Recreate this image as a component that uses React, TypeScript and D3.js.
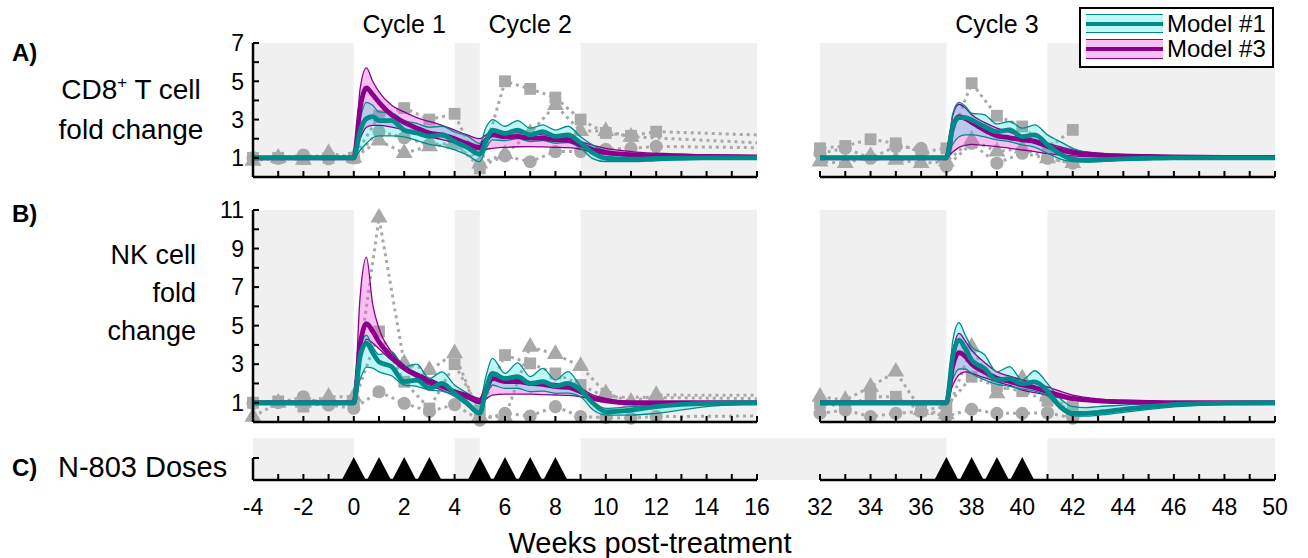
import React from "react";
import * as d3 from "d3";

const FONT = "'Liberation Sans', Arial, Helvetica, sans-serif";
const TEAL = "#008b8b";
const PURPLE = "#8b008b";
const GRAY = "#a9a9a9";
const SHADE = "#f0f0f0";
const CYAN_FILL = "rgb(0,225,225)";
const PINK_FILL = "rgb(235,90,215)";

// model time grids (weeks)
const tLeft = [-4, 0, 0.25, 0.5, 0.75, 1, 1.5, 2, 2.5, 3, 3.5, 4, 4.5, 5, 5.25, 5.5, 6, 6.5, 7, 7.5, 8, 8.5, 9, 9.5, 10, 11, 12, 14, 16];
const tRight = [32, 37, 37.25, 37.5, 37.75, 38, 38.5, 39, 39.5, 40, 40.5, 41, 41.5, 42, 42.5, 43, 44, 45, 46, 48, 50];

// CD8+ T cell fold change, model #1 (teal)
const cd8M1MidL = [1, 1, 2.4, 3.05, 3.15, 2.95, 2.95, 2.45, 2.3, 2.12, 2.2, 1.85, 1.55, 1.2, 1.9, 2.45, 2.28, 2.45, 2.2, 2.37, 2.12, 2.2, 1.78, 1.25, 0.98, 0.93, 0.97, 1.0, 1.0];
const cd8M1HiL = [1, 1, 3.0, 3.9, 3.75, 3.4, 3.35, 2.95, 2.8, 2.6, 2.65, 2.35, 2.15, 1.75, 2.6, 3.0, 2.65, 2.95, 2.55, 2.72, 2.45, 2.65, 2.1, 1.65, 1.33, 1.08, 1.02, 1.0, 1.0];
const cd8M1LoL = [1, 1, 1.4, 1.75, 2.05, 2.15, 2.15, 2.1, 1.9, 1.7, 1.6, 1.42, 1.15, 0.8, 1.5, 1.94, 1.9, 2.0, 1.85, 1.9, 1.76, 1.8, 1.5, 0.95, 0.8, 0.8, 0.85, 0.93, 0.95];
const cd8M1MidR = [1, 1, 2.6, 3.1, 3.1, 2.98, 2.64, 2.37, 2.46, 2.11, 2.2, 1.68, 1.2, 0.92, 0.88, 0.9, 0.95, 0.98, 1.0, 1.0, 1.0];
const cd8M1HiR = [1, 1, 3.3, 3.9, 3.7, 3.33, 3.26, 2.77, 2.9, 2.55, 2.72, 2.2, 1.85, 1.5, 1.3, 1.2, 1.1, 1.05, 1.03, 1.0, 1.0];
const cd8M1LoR = [1, 1, 1.7, 2.1, 2.2, 2.2, 2.1, 1.94, 1.85, 1.68, 1.55, 1.24, 0.95, 0.8, 0.78, 0.8, 0.88, 0.93, 0.96, 0.99, 1.0];

// CD8+ T cell fold change, model #3 (purple)
const cd8M3MidL = [1, 1, 3.6, 4.65, 4.3, 3.9, 3.25, 2.85, 2.55, 2.3, 2.2, 2.0, 1.75, 1.55, 1.95, 2.2, 2.1, 2.12, 2.03, 2.03, 1.94, 1.92, 1.68, 1.42, 1.29, 1.16, 1.11, 1.07, 1.05];
const cd8M3HiL = [1, 1, 4.6, 5.7, 5.0, 4.45, 3.75, 3.4, 3.1, 2.9, 2.7, 2.45, 2.2, 2.0, 2.2, 2.37, 2.33, 2.3, 2.24, 2.2, 2.11, 2.05, 1.85, 1.65, 1.5, 1.33, 1.24, 1.16, 1.12];
const cd8M3LoL = [1, 1, 2.0, 2.6, 2.7, 2.7, 2.6, 2.45, 2.25, 2.1, 1.95, 1.78, 1.6, 1.42, 1.45, 1.5, 1.55, 1.58, 1.59, 1.57, 1.55, 1.53, 1.45, 1.28, 1.18, 1.1, 1.07, 1.04, 1.03];
const cd8M3MidR = [1, 1, 2.6, 3.15, 3.05, 2.85, 2.45, 2.15, 2.05, 1.94, 1.85, 1.6, 1.4, 1.27, 1.2, 1.16, 1.1, 1.07, 1.05, 1.03, 1.02];
const cd8M3HiR = [1, 1, 3.2, 3.8, 3.6, 3.25, 2.85, 2.55, 2.35, 2.11, 1.95, 1.76, 1.58, 1.42, 1.32, 1.25, 1.17, 1.12, 1.09, 1.05, 1.04];
const cd8M3LoR = [1, 1, 1.3, 1.55, 1.65, 1.7, 1.65, 1.59, 1.5, 1.41, 1.33, 1.22, 1.15, 1.1, 1.07, 1.05, 1.03, 1.02, 1.01, 1.0, 1.0];

// NK cell fold change, model #1 (teal)
const nkM1MidL = [1, 1, 3.4, 4.1, 3.6, 3.12, 2.87, 2.09, 2.17, 1.74, 2.0, 1.49, 0.97, 0.45, 1.7, 2.52, 2.26, 2.35, 2.0, 2.09, 1.87, 2.0, 1.66, 0.97, 0.53, 0.62, 0.8, 0.97, 1.0];
const nkM1HiL = [1, 1, 3.8, 4.5, 3.9, 3.5, 3.65, 2.87, 3.0, 2.26, 2.6, 1.92, 1.5, 1.08, 2.4, 3.3, 2.52, 3.07, 2.35, 2.78, 2.18, 2.61, 1.83, 1.05, 0.71, 0.8, 0.89, 0.97, 1.0];
const nkM1LoL = [1, 1, 2.2, 2.85, 2.8, 2.6, 2.4, 1.92, 1.85, 1.66, 1.6, 1.32, 0.85, 0.38, 1.3, 1.92, 1.74, 1.75, 1.57, 1.6, 1.49, 1.5, 1.31, 0.62, 0.36, 0.36, 0.45, 0.8, 0.94];
const nkM1MidR = [1, 1, 3.4, 4.25, 3.8, 3.21, 2.78, 2.18, 2.25, 1.99, 2.08, 1.6, 0.8, 0.45, 0.45, 0.5, 0.65, 0.8, 0.9, 0.98, 1.0];
const nkM1HiR = [1, 1, 4.2, 5.15, 4.5, 3.9, 3.5, 2.6, 2.87, 2.18, 2.66, 1.99, 1.22, 0.8, 0.75, 0.8, 0.88, 0.95, 0.98, 1.0, 1.0];
const nkM1LoR = [1, 1, 2.2, 2.75, 2.75, 2.5, 2.2, 1.95, 1.85, 1.7, 1.6, 1.35, 0.7, 0.32, 0.3, 0.35, 0.5, 0.65, 0.78, 0.93, 0.98];

// NK cell fold change, model #3 (purple)
const nkM3MidL = [1, 1, 4.0, 5.1, 4.7, 4.16, 3.38, 2.78, 2.43, 2.09, 1.85, 1.57, 1.35, 1.05, 1.7, 2.26, 2.09, 2.1, 2.0, 1.95, 1.83, 1.8, 1.57, 1.23, 1.1, 1.0, 1.0, 1.0, 1.0];
const nkM3HiL = [1, 1, 6.5, 8.55, 6.1, 4.85, 3.64, 2.95, 2.55, 2.26, 1.95, 1.66, 1.45, 1.23, 1.9, 2.43, 2.3, 2.2, 2.09, 2.05, 2.0, 1.9, 1.74, 1.4, 1.23, 1.05, 1.0, 1.0, 1.0];
const nkM3LoL = [1, 1, 3.2, 4.3, 4.1, 3.8, 3.2, 2.69, 2.3, 1.92, 1.65, 1.4, 1.2, 0.95, 1.2, 1.4, 1.45, 1.45, 1.45, 1.42, 1.4, 1.38, 1.31, 1.15, 1.05, 1.0, 1.0, 1.0, 1.0];
const nkM3MidR = [1, 1, 2.9, 3.6, 3.4, 3.0, 2.6, 2.27, 2.1, 1.92, 1.78, 1.57, 1.38, 1.22, 1.15, 1.1, 1.05, 1.02, 1.0, 1.0, 1.0];
const nkM3HiR = [1, 1, 3.6, 4.6, 4.2, 3.73, 3.1, 2.6, 2.38, 2.18, 2.0, 1.82, 1.6, 1.4, 1.28, 1.2, 1.1, 1.05, 1.02, 1.0, 1.0];
const nkM3LoR = [1, 1, 1.9, 2.45, 2.6, 2.52, 2.3, 2.09, 1.9, 1.66, 1.52, 1.4, 1.25, 1.14, 1.08, 1.05, 1.02, 1.0, 1.0, 1.0, 1.0];

// patient measurements (gray markers)
const patientWeeks = [-4, -3, -2, -1, 0, 1, 2, 3, 4, 5, 6, 7, 8, 9, 10, 11, 12, 32, 33, 34, 35, 36, 37, 38, 39, 40, 41, 42];
const cd8Circle = [1.0, 0.97, 1.15, 0.95, 1.0, 2.37, 2.05, 1.7, 1.75, 0.55, 1.1, 0.8, 1.33, 1.33, 1.45, 1.5, 1.6, 1.24, 1.5, 0.98, 1.59, 1.5, 0.55, 1.76, 0.72, 1.24, 0.98, 0.72];
const cd8Square = [1.0, 1.0, 0.95, 1.0, 1.0, 3.2, 3.6, 3.0, 3.3, 0.45, 5.0, 4.6, 4.15, 3.0, 2.3, 2.15, 2.37, 1.5, 1.62, 1.97, 1.76, 1.3, 1.5, 4.9, 3.2, 2.64, 1.5, 2.46];
const cd8Triangle = [0.85, 1.0, 0.9, 1.25, 1.0, 1.9, 1.25, 1.6, 1.7, 0.7, 1.2, 2.3, 3.75, 2.4, 2.4, 2.1, null, 0.8, 0.72, 1.1, 0.9, 0.72, 0.8, 1.94, 1.33, 1.5, 0.98, 0.72];
const nkCircle = [0.97, 1.0, 1.31, 0.88, 0.71, 1.57, 0.97, 0.55, 0.9, 0.1, 0.45, 0.31, 0.8, 0.28, 0.23, 0.2, 0.28, 0.45, 0.62, 0.28, 0.45, 0.54, 0.3, 0.66, 0.45, 0.45, 0.48, 0.2];
const nkSquare = [1.0, 1.07, 0.8, 1.0, 1.0, 4.7, 2.09, 0.7, 3.0, 0.6, 3.47, 3.04, 2.52, 1.92, 1.3, null, null, 0.97, 0.8, 1.31, 1.31, 0.6, 0.8, 2.35, 1.85, 1.6, 1.1, 0.9];
const nkTriangle = [0.27, 1.0, 1.0, 1.31, 1.31, 10.6, 3.04, 2.69, 3.56, 0.3, 0.25, 3.9, 3.52, 2.9, 1.49, 1.05, 1.4, 1.31, 1.14, 1.83, 2.61, 0.62, 0.4, 3.9, 1.49, 2.27, 1.32, 0.5];

const doseWeeks = [0, 1, 2, 3, 5, 6, 7, 8, 37, 38, 39, 40];
const shadeLeft = [[-4, 0], [4, 5], [9, 16]];
const shadeRight = [[32, 37], [41, 50]];
const cycles = [
  { label: "Cycle 1", from: 0, to: 4, side: "L" },
  { label: "Cycle 2", from: 5, to: 9, side: "L" },
  { label: "Cycle 3", from: 37, to: 41, side: "R" },
];
const weekLabels = [-4, -2, 0, 2, 4, 6, 8, 10, 12, 14, 16, 32, 34, 36, 38, 40, 42, 44, 46, 48, 50];

const xL = d3.scaleLinear().domain([-4, 16]).range([253, 757]);
const xR = d3.scaleLinear().domain([32, 50]).range([820, 1275]);
const yA = d3.scaleLinear().domain([0, 7]).range([177, 43]);
const yB = d3.scaleLinear().domain([0, 11]).range([422, 210]);
const cTop = 438;
const cBase = 480;

const symbols = {
  circle: d3.symbol().type(d3.symbolCircle).size(135)(),
  square: d3.symbol().type(d3.symbolSquare).size(140)(),
  triangle: d3.symbol().type(d3.symbolTriangle).size(125)(),
};

type Series = { lo: number[]; mid: number[]; hi: number[] };
type Patient = { vals: (number | null)[]; shape: "circle" | "square" | "triangle" };

function Section({ x, y, t, m1, m3, patients, id }: any) {
  const idx = t.map((_: number, i: number) => i);
  const area = (s: Series) =>
    d3.area<number>().x((i) => x(t[i])).y0((i) => y(s.lo[i])).y1((i) => y(s.hi[i])).curve(d3.curveMonotoneX)(idx) || "";
  const line = (v: number[]) =>
    d3.line<number>().x((i) => x(t[i])).y((i) => y(v[i])).curve(d3.curveMonotoneX)(idx) || "";
  const [d0, d1] = x.domain();
  const [r0, r1] = x.range();
  const pline = d3.line<[number, number]>().x((d) => x(d[0])).y((d) => y(d[1]));
  return (
    <g>
      <clipPath id={id}>
        <rect x={r0} y={0} width={r1 - r0} height={500} />
      </clipPath>
      <g clipPath={`url(#${id})`}>
        {(patients as Patient[]).map((p, k) => {
          const pts = patientWeeks
            .map((w, i) => [w, p.vals[i]] as [number, number | null])
            .filter((d) => d[1] != null) as [number, number][];
          return (
            <path key={k} d={pline(pts) || ""} fill="none" stroke={GRAY} strokeWidth={3} strokeDasharray="3 4" />
          );
        })}
      </g>
      {(patients as Patient[]).map((p, k) =>
        patientWeeks.map((w, i) =>
          p.vals[i] != null && w >= d0 && w <= d1 ? (
            <path key={`${k}-${i}`} d={symbols[p.shape]} fill={GRAY} transform={`translate(${x(w)},${y(p.vals[i] as number)})`} />
          ) : null
        )
      )}
      <path d={area(m3)} fill={PINK_FILL} fillOpacity={0.38} />
      <path d={area(m1)} fill={CYAN_FILL} fillOpacity={0.25} />
      <path d={line(m3.hi)} fill="none" stroke={PURPLE} strokeWidth={1.3} />
      <path d={line(m3.lo)} fill="none" stroke={PURPLE} strokeWidth={1.3} />
      <path d={line(m1.hi)} fill="none" stroke={TEAL} strokeWidth={1.3} />
      <path d={line(m1.lo)} fill="none" stroke={TEAL} strokeWidth={1.3} />
      <path d={line(m3.mid)} fill="none" stroke={PURPLE} strokeWidth={4.8} />
      <path d={line(m1.mid)} fill="none" stroke={TEAL} strokeWidth={4.8} />
    </g>
  );
}

function Shading({ top, bottom, gap }: { top: number; bottom: number; gap?: boolean }) {
  return (
    <g>
      {shadeLeft.map(([a, b], i) => (
        <rect key={`l${i}`} x={xL(a)} y={top} width={xL(b) - xL(a)} height={bottom - top} fill={SHADE} />
      ))}
      {shadeRight.map(([a, b], i) => (
        <rect key={`r${i}`} x={xR(a)} y={top} width={xR(b) - xR(a)} height={bottom - top} fill={SHADE} />
      ))}
      {gap && <rect x={xL(16)} y={top} width={xR(32) - xL(16)} height={bottom - top} fill={SHADE} />}
    </g>
  );
}

function XAxes({ y0 }: { y0: number }) {
  const parts = [
    { x: xL, weeks: d3.range(-4, 17) },
    { x: xR, weeks: d3.range(32, 51) },
  ];
  return (
    <g stroke="#000">
      {parts.map((p, k) => (
        <g key={k}>
          <line x1={p.x.range()[0]} x2={p.x.range()[1]} y1={y0} y2={y0} strokeWidth={2.5} />
          {p.weeks.map((w) => (
            <line key={w} x1={p.x(w)} x2={p.x(w)} y1={y0} y2={y0 - 6} strokeWidth={2} />
          ))}
        </g>
      ))}
    </g>
  );
}

function YAxis({ y, max }: { y: any; max: number }) {
  const ticks = d3.range(0, max + 1);
  return (
    <g>
      <line x1={253} x2={253} y1={y(max)} y2={y(0)} stroke="#000" strokeWidth={2.5} />
      {ticks.map((v) => (
        <line key={v} x1={253} x2={259} y1={y(v)} y2={y(v)} stroke="#000" strokeWidth={2} />
      ))}
      {ticks
        .filter((v) => v % 2 === 1)
        .map((v) => (
          <text key={`t${v}`} x={244} y={y(v)} dy="0.36em" textAnchor="end" fontSize={23}>
            {v}
          </text>
        ))}
    </g>
  );
}

export default function App() {
  const doseTri = (w: number, x: any) =>
    d3.line()([
      [x(w) - 12, cBase],
      [x(w), cBase - 23],
      [x(w) + 12, cBase],
    ]) + "Z";
  return (
    <div>
      <style>{"body{margin:0}"}</style>
      <svg width={1308} height={558} style={{ display: "block", fontFamily: FONT }}>
        <rect width={1308} height={558} fill="#fff" />
        <Shading top={43} bottom={177} />
        <Shading top={210} bottom={422} />
        <Shading top={cTop} bottom={cBase} gap />

        <Section
          id="cA-L" x={xL} y={yA} t={tLeft}
          m1={{ lo: cd8M1LoL, mid: cd8M1MidL, hi: cd8M1HiL }}
          m3={{ lo: cd8M3LoL, mid: cd8M3MidL, hi: cd8M3HiL }}
          patients={[{ vals: cd8Circle, shape: "circle" }, { vals: cd8Square, shape: "square" }, { vals: cd8Triangle, shape: "triangle" }]}
        />
        <Section
          id="cA-R" x={xR} y={yA} t={tRight}
          m1={{ lo: cd8M1LoR, mid: cd8M1MidR, hi: cd8M1HiR }}
          m3={{ lo: cd8M3LoR, mid: cd8M3MidR, hi: cd8M3HiR }}
          patients={[{ vals: cd8Circle, shape: "circle" }, { vals: cd8Square, shape: "square" }, { vals: cd8Triangle, shape: "triangle" }]}
        />
        <Section
          id="cB-L" x={xL} y={yB} t={tLeft}
          m1={{ lo: nkM1LoL, mid: nkM1MidL, hi: nkM1HiL }}
          m3={{ lo: nkM3LoL, mid: nkM3MidL, hi: nkM3HiL }}
          patients={[{ vals: nkCircle, shape: "circle" }, { vals: nkSquare, shape: "square" }, { vals: nkTriangle, shape: "triangle" }]}
        />
        <Section
          id="cB-R" x={xR} y={yB} t={tRight}
          m1={{ lo: nkM1LoR, mid: nkM1MidR, hi: nkM1HiR }}
          m3={{ lo: nkM3LoR, mid: nkM3MidR, hi: nkM3HiR }}
          patients={[{ vals: nkCircle, shape: "circle" }, { vals: nkSquare, shape: "square" }, { vals: nkTriangle, shape: "triangle" }]}
        />

        <XAxes y0={yA(0)} />
        <XAxes y0={yB(0)} />
        <XAxes y0={cBase} />
        <YAxis y={yA} max={7} />
        <YAxis y={yB} max={11} />
        <line x1={253} x2={253} y1={cBase - 22} y2={cBase} stroke="#000" strokeWidth={2.5} />
        <line x1={253} x2={259} y1={cBase - 22} y2={cBase - 22} stroke="#000" strokeWidth={2} />

        {doseWeeks.map((w) => (
          <path key={w} d={doseTri(w, w < 20 ? xL : xR)} fill="#000" />
        ))}

        {weekLabels.map((w) => (
          <text key={w} x={(w < 20 ? xL : xR)(w)} y={515} textAnchor="middle" fontSize={23}>
            {w}
          </text>
        ))}
        <text x={650} y={553} textAnchor="middle" fontSize={29}>Weeks post-treatment</text>

        {cycles.map((c) => {
          const x = c.side === "L" ? xL : xR;
          return (
            <text key={c.label} x={(x(c.from) + x(c.to)) / 2} y={33} textAnchor="middle" fontSize={25}>
              {c.label}
            </text>
          );
        })}

        <text x={12} y={61} fontSize={24} fontWeight="bold">A)</text>
        <text x={12} y={222} fontSize={24} fontWeight="bold">B)</text>
        <text x={12} y={476} fontSize={24} fontWeight="bold">C)</text>

        <text x={131} y={99} textAnchor="middle" fontSize={28}>
          CD8<tspan fontSize={17} dy={-11}>+</tspan>
          <tspan dy={11}> T cell</tspan>
        </text>
        <text x={131} y={139} textAnchor="middle" fontSize={28}>fold change</text>
        <text x={196} y={264} textAnchor="end" fontSize={27}>NK cell</text>
        <text x={196} y={302} textAnchor="end" fontSize={27}>fold</text>
        <text x={196} y={340} textAnchor="end" fontSize={27}>change</text>
        <text x={58} y={477} fontSize={29}>N-803 Doses</text>

        <g>
          <rect x={1080} y={8} width={193} height={59} fill="#fff" stroke="#000" strokeWidth={2} />
          <rect x={1086} y={14} width={77} height={19} fill={CYAN_FILL} fillOpacity={0.25} />
          <line x1={1086} x2={1163} y1={14.5} y2={14.5} stroke={TEAL} strokeWidth={1} />
          <line x1={1086} x2={1163} y1={32.5} y2={32.5} stroke={TEAL} strokeWidth={1} />
          <line x1={1086} x2={1163} y1={24} y2={24} stroke={TEAL} strokeWidth={4} />
          <text x={1167} y={32} fontSize={24}>Model #1</text>
          <rect x={1086} y={39} width={77} height={20} fill={PINK_FILL} fillOpacity={0.38} />
          <line x1={1086} x2={1163} y1={39.5} y2={39.5} stroke={PURPLE} strokeWidth={1} />
          <line x1={1086} x2={1163} y1={58.5} y2={58.5} stroke={PURPLE} strokeWidth={1} />
          <line x1={1086} x2={1163} y1={49} y2={49} stroke={PURPLE} strokeWidth={4} />
          <text x={1167} y={57} fontSize={24}>Model #3</text>
        </g>
      </svg>
    </div>
  );
}
